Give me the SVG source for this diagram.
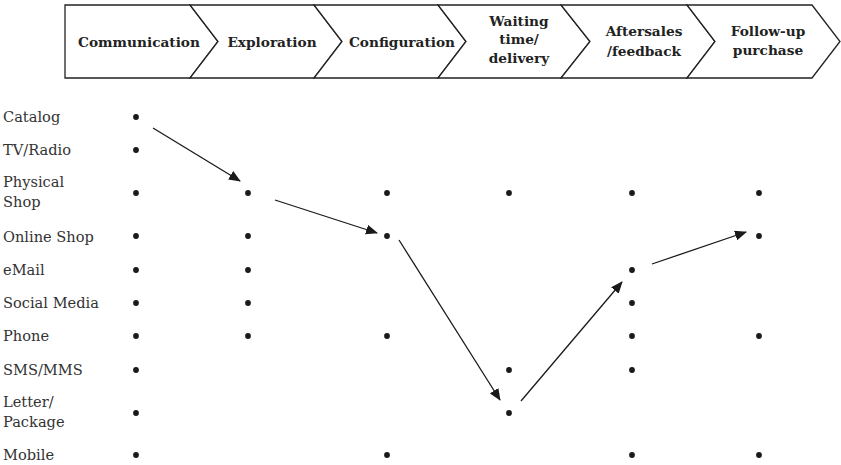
<svg xmlns="http://www.w3.org/2000/svg" width="841" height="465" viewBox="0 0 841 465">
  <style>
    .stage { fill: #ffffff; stroke: #222222; stroke-width: 1.3; stroke-linejoin: miter; }
    .head { font-family: "DejaVu Serif", "Liberation Serif", serif; font-weight: bold; font-size: 13.7px; fill: #222222; text-anchor: middle; }
    .lbl { font-family: "DejaVu Serif", "Liberation Serif", serif; font-size: 14.6px; fill: #333333; }
    .dot { fill: #1a1a1a; }
    .arrow { stroke: #1a1a1a; stroke-width: 1.3; fill: none; marker-end: url(#head); }
  </style>
  <defs>
    <marker id="head" viewBox="0 0 12 10" refX="11" refY="5" markerWidth="12" markerHeight="10" markerUnits="userSpaceOnUse" orient="auto">
      <path d="M0,0 L12,5 L0,10 Z" fill="#1a1a1a"/>
    </marker>
  </defs>

  <!-- process stages (chevrons) -->
  <g id="stage-communication">
    <path class="stage" d="M65,5 L190,5 L218,41.5 L190,78 L65,78 Z"/>
    <text class="head" x="139" y="47">Communication</text>
  </g>
  <g id="stage-exploration">
    <path class="stage" d="M190,5 L314,5 L342,41.5 L314,78 L190,78 L218,41.5 Z"/>
    <text class="head" x="272" y="47">Exploration</text>
  </g>
  <g id="stage-configuration">
    <path class="stage" d="M314,5 L438,5 L466,41.5 L438,78 L314,78 L342,41.5 Z"/>
    <text class="head" x="402" y="47">Configuration</text>
  </g>
  <g id="stage-waiting">
    <path class="stage" d="M438,5 L561,5 L590,41.5 L561,78 L438,78 L466,41.5 Z"/>
    <text class="head" x="519" y="26">Waiting</text>
    <text class="head" x="519" y="44">time/</text>
    <text class="head" x="519" y="63">delivery</text>
  </g>
  <g id="stage-aftersales">
    <path class="stage" d="M561,5 L687,5 L715,41.5 L687,78 L561,78 L590,41.5 Z"/>
    <text class="head" x="644" y="36">Aftersales</text>
    <text class="head" x="644" y="56">/feedback</text>
  </g>
  <g id="stage-followup">
    <path class="stage" d="M687,5 L812,5 L840,41.5 L812,78 L687,78 L715,41.5 Z"/>
    <text class="head" x="768" y="36">Follow-up</text>
    <text class="head" x="768" y="55">purchase</text>
  </g>

  <!-- channel labels -->
  <g id="channels">
    <text class="lbl" x="3" y="122">Catalog</text>
    <text class="lbl" x="3" y="155">TV/Radio</text>
    <text class="lbl" x="3" y="187">Physical</text>
    <text class="lbl" x="3" y="207">Shop</text>
    <text class="lbl" x="3" y="242">Online Shop</text>
    <text class="lbl" x="3" y="275">eMail</text>
    <text class="lbl" x="3" y="308">Social Media</text>
    <text class="lbl" x="3" y="341">Phone</text>
    <text class="lbl" x="3" y="375">SMS/MMS</text>
    <text class="lbl" x="3" y="407">Letter/</text>
    <text class="lbl" x="3" y="427">Package</text>
    <text class="lbl" x="3" y="460">Mobile</text>
  </g>

  <!-- channel availability per stage -->
  <g id="col-communication">
    <circle class="dot" cx="136" cy="117" r="2.9"/>
    <circle class="dot" cx="136" cy="150" r="2.9"/>
    <circle class="dot" cx="136" cy="193" r="2.9"/>
    <circle class="dot" cx="136" cy="236" r="2.9"/>
    <circle class="dot" cx="136" cy="270" r="2.9"/>
    <circle class="dot" cx="136" cy="303" r="2.9"/>
    <circle class="dot" cx="136" cy="336" r="2.9"/>
    <circle class="dot" cx="136" cy="370" r="2.9"/>
    <circle class="dot" cx="136" cy="413" r="2.9"/>
    <circle class="dot" cx="136" cy="455" r="2.9"/>
  </g>
  <g id="col-exploration">
    <circle class="dot" cx="248" cy="193" r="2.9"/>
    <circle class="dot" cx="248" cy="236" r="2.9"/>
    <circle class="dot" cx="248" cy="270" r="2.9"/>
    <circle class="dot" cx="248" cy="303" r="2.9"/>
    <circle class="dot" cx="248" cy="336" r="2.9"/>
  </g>
  <g id="col-configuration">
    <circle class="dot" cx="387" cy="193" r="2.9"/>
    <circle class="dot" cx="387" cy="236" r="2.9"/>
    <circle class="dot" cx="387" cy="336" r="2.9"/>
    <circle class="dot" cx="387" cy="455" r="2.9"/>
  </g>
  <g id="col-waiting">
    <circle class="dot" cx="509" cy="193" r="2.9"/>
    <circle class="dot" cx="509" cy="370" r="2.9"/>
    <circle class="dot" cx="509" cy="413" r="2.9"/>
  </g>
  <g id="col-aftersales">
    <circle class="dot" cx="632" cy="193" r="2.9"/>
    <circle class="dot" cx="632" cy="270" r="2.9"/>
    <circle class="dot" cx="632" cy="303" r="2.9"/>
    <circle class="dot" cx="632" cy="336" r="2.9"/>
    <circle class="dot" cx="632" cy="370" r="2.9"/>
    <circle class="dot" cx="632" cy="455" r="2.9"/>
  </g>
  <g id="col-followup">
    <circle class="dot" cx="759" cy="193" r="2.9"/>
    <circle class="dot" cx="759" cy="236" r="2.9"/>
    <circle class="dot" cx="759" cy="336" r="2.9"/>
    <circle class="dot" cx="759" cy="455" r="2.9"/>
  </g>

  <!-- customer journey path -->
  <g id="connectors">
    <line class="arrow" x1="153" y1="128" x2="240" y2="181"/>
    <line class="arrow" x1="275" y1="200" x2="377" y2="233"/>
    <line class="arrow" x1="399" y1="240" x2="500" y2="400"/>
    <line class="arrow" x1="521" y1="401" x2="622" y2="282"/>
    <line class="arrow" x1="652" y1="264" x2="746" y2="232"/>
  </g>
</svg>
